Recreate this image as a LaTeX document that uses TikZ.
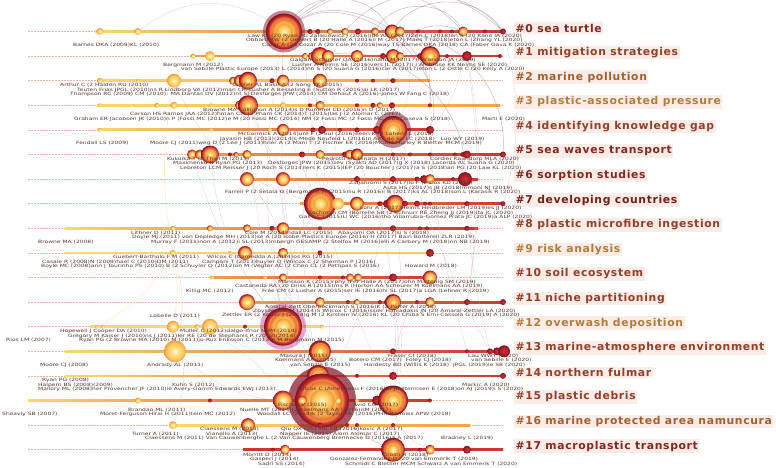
\documentclass[tikz,border=0pt]{standalone}
\usepackage{fontspec}
\setmainfont{DejaVu Sans}
\newfontfamily\clfont{DejaVu Sans}[LetterSpace=6]
\newfontfamily\aufont{DejaVu Sans}[FakeStretch=1.36]
\pgfdeclarelayer{back}
\pgfdeclarelayer{bg}
\pgfsetlayers{back,bg,main}
\definecolor{yA}{RGB}{255,246,205}
\definecolor{yB}{RGB}{255,222,130}
\definecolor{yC}{RGB}{250,192,85}
\definecolor{oA}{RGB}{243,150,65}
\definecolor{oB}{RGB}{230,105,55}
\definecolor{rA}{RGB}{205,55,50}
\definecolor{rB}{RGB}{170,28,40}
\definecolor{rC}{RGB}{130,18,35}
\definecolor{authc}{RGB}{88,55,45}
\definecolor{labbg}{RGB}{252,236,231}
\definecolor{dashc}{RGB}{242,175,160}
\definecolor{linkc}{RGB}{215,160,165}
\definecolor{linkdc}{RGB}{150,85,110}
\definecolor{lnY}{RGB}{252,215,110}
\definecolor{lnO}{RGB}{245,160,70}
\definecolor{lnR}{RGB}{205,55,50}
\definecolor{cRed}{RGB}{135,38,30}
\definecolor{cBrn}{RGB}{150,62,40}
\definecolor{cOrg}{RGB}{165,95,45}
\definecolor{cLt}{RGB}{178,125,58}
\pgfdeclareradialshading{oldc}{\pgfpointorigin}{color(0bp)=(yA); color(10bp)=(yB); color(20bp)=(yC); color(25bp)=(oA); color(50bp)=(oA)}
\pgfdeclareradialshading{midc}{\pgfpointorigin}{color(0bp)=(yA); color(7bp)=(yB); color(13bp)=(yC); color(18bp)=(oA); color(22bp)=(rA); color(25bp)=(rB); color(50bp)=(rB)}
\pgfdeclareradialshading{newc}{\pgfpointorigin}{color(0bp)=(rA); color(18bp)=(rB); color(25bp)=(rC); color(50bp)=(rC)}
\pgfdeclareradialshading{bigc}{\pgfpointorigin}{color(0bp)=(yA); color(4bp)=(yB); color(8bp)=(yC); color(11bp)=(oA); color(12bp)=(yC); color(15bp)=(oA); color(18bp)=(oB); color(19bp)=(oA); color(21bp)=(rA); color(23bp)=(rB); color(25bp)=(rC); color(50bp)=(rC)}
\tikzset{
  cit/.style={circle, inner sep=0pt, shade},
  halo/.style={circle, inner sep=0pt, fill=rC, fill opacity=0.5},
  auth/.style={font=\aufont\fontsize{4.4}{4.4}\selectfont, text=authc, anchor=west, inner sep=0pt},
  clab/.style={font=\clfont\fontsize{10.8}{12}\selectfont\bfseries, fill=labbg, anchor=west, inner sep=1.5pt},
  dashl/.style={draw=dashc, line width=0.55pt, dash pattern=on 1.6pt off 1.4pt},
  link/.style={draw=linkc, line width=0.35pt, draw opacity=0.5},
  linkd/.style={draw=linkdc, line width=0.45pt, draw opacity=0.45},
  linky/.style={draw=lnY, line width=0.35pt, draw opacity=0.6}
}
\newcommand\rownodes[3]{\foreach \x/\r/\s [count=\k] in {#3} {\node[cit, shading=\s, minimum size={2*\r pt}] (n#1-\k) at (\x,#2) {};}}
\newcommand\tline[5]{\draw[dashl] (28,#1) -- (503,#1); \shade[left color=#4, right color=#5] (#2,#1-0.9) rectangle (#3,#1+0.9);}
\newcommand\au[4]{\node[auth] (#1) at (#2,#3) {#4};}
\begin{document}
\begin{tikzpicture}[x=1pt,y=-1pt]
\useasboundingbox (0,0) rectangle (776,468);
\begin{pgfonlayer}{back}
\fill[white] (0,0) rectangle (776,468);
\end{pgfonlayer}
% halos
\node[halo, minimum size=42pt] (h0) at (284,31.5) {};
\node[halo, minimum size=36pt] (h4) at (393,129.9) {};
\node[halo, fill=rC!60!magenta, fill opacity=0.35, minimum size=46pt] (h12) at (283,326.7) {};
\node[halo, fill opacity=0.7, minimum size=68pt] (h15) at (322,400.5) {};
% nodes
\rownodes{0}{31.5}{100/3.5/oldc,138/3.5/oldc,284/18/bigc,310/2.5/newc,318/2.5/newc,330/3/midc,345/3.5/midc,358/3/newc,375/4/midc,392/7/bigc,400/5/midc,418/2/newc,440/2/newc,452/2/newc,463/5/midc,485/2/newc,503/3/newc}
\rownodes{1}{56.1}{193/2.5/oldc,210/5/oldc,305/3/midc,312/4/midc,320/9/bigc,328/6/midc,357/6/midc,383/3/newc,393/7/bigc,400/4/midc,420/3/newc,430/10/bigc,447/2/newc,467/5/newc,500/2/newc}
\rownodes{2}{80.7}{100/3/oldc,138/2/oldc,174/7/oldc,233/4/midc,240/6/midc,248/9/bigc,272/2.5/newc,283/6/midc,320/7/midc,357/2/newc,373/2/newc,393/2.5/newc}
\rownodes{3}{105.3}{100/2/oldc,157/2.5/oldc,174/3.5/oldc,211/2/oldc,240/5/midc,248/10/bigc,283/3/oldc,310/2/newc,320/4.5/midc,357/2/newc,373/2.5/newc,380/3/midc,392/3/newc,430/2/newc}
\rownodes{4}{129.9}{100/2/oldc,211/2/oldc,270/2/oldc,283/6/midc,313/2.5/newc,322/4/newc,340/2/newc,357/2.5/newc,377/4/newc,393/14/bigc,430/4/newc}
\rownodes{5}{154.5}{192/5/midc,200/5/midc,210/9/bigc,230/2/newc,236/2.5/midc,247/4.5/midc,302/3/newc,320/4.5/midc,345/3/newc,350/5/midc,357/6/bigc,393/2/newc,410/2/newc,430/2/newc,455/2/newc,463/2.5/newc,467/4/newc,503/3/newc}
\rownodes{6}{179.1}{247/7/midc,283/7/midc,357/3/newc,393/3/newc,417/2.5/newc,424/4/newc,430/5/midc,453/2/newc,465/7/newc}
\rownodes{7}{203.7}{320/16/bigc,338/6/oldc,357/7/midc,380/2.5/newc,387/4/newc,395/9/bigc,405/3/newc,417/3/newc,425/2/newc,430/2/newc,467/2.5/newc,503/2.5/newc}
\rownodes{8}{228.3}{173/2.5/oldc,210/3/midc,247/4/midc,272/2.5/newc,283/6/midc,320/2/newc,393/3/newc,420/2/newc,427/2/newc,467/2.5/newc}
\rownodes{9}{252.9}{173/3/oldc,230/2/oldc,245/7/midc,283/5/midc,320/2.5/newc,430/4/newc}
\rownodes{10}{277.5}{212/2/oldc,265/2/oldc,283/4/midc,320/2/newc,343/2/newc,350/4/midc,358/4/midc,393/4/newc,430/7/midc}
\rownodes{11}{302.1}{247/8/midc,320/5/midc,348/2/newc,357/3/midc,380/2/newc,387/3/newc,393/8/bigc,417/2/newc,430/5/midc,467/3/newc,503/3/newc}
\rownodes{12}{326.7}{97/2/oldc,103/2/oldc,173/6/oldc,197/2.5/oldc,210/8/oldc,245/2/newc,283/19/bigc,322/2/oldc}
\rownodes{13}{351.3}{175/11/oldc,320/11/bigc,393/3/newc,467/2/newc,490/3/newc,497/4/newc,504/6/newc}
\rownodes{14}{375.9}{318/11/bigc,357/2/newc,393/4/newc,503/3/newc}
\rownodes{15}{400.5}{138/3/oldc,210/2/newc,283/10/midc,322/27/bigc,302/5/midc,338/3/oldc,357/2/oldc,377/5/newc,393/15/bigc,430/2/newc}
\rownodes{16}{425.1}{173/4/oldc,248/7/midc,320/2.5/newc,347/2/newc,357/2/newc,393/2/newc}
\rownodes{17}{449.7}{273/2/newc,285/5/midc,393/12/bigc,420/2/newc,430/5/midc,467/4/newc}
% cluster labels
\node[clab, text=cRed] (l0) at (514,28) {\#0 sea turtle};
\node[clab, text=cBrn] (l1) at (514,52.6) {\#1 mitigation strategies};
\node[clab, text=cOrg] (l2) at (514,77.2) {\#2 marine pollution};
\node[clab, text=cLt] (l3) at (514,101.8) {\#3 plastic-associated pressure};
\node[clab, text=cBrn] (l4) at (514,126.4) {\#4 identifying knowledge gap};
\node[clab, text=cRed] (l5) at (514,151) {\#5 sea waves transport};
\node[clab, text=cRed] (l6) at (514,175.6) {\#6 sorption studies};
\node[clab, text=cRed!85!black] (l7) at (514,200.2) {\#7 developing countries};
\node[clab, text=cBrn] (l8) at (514,224.8) {\#8 plastic microfibre ingestion};
\node[clab, text=cLt] (l9) at (514,249.4) {\#9 risk analysis};
\node[clab, text=cBrn] (l10) at (514,274) {\#10 soil ecosystem};
\node[clab, text=cBrn] (l11) at (514,298.6) {\#11 niche partitioning};
\node[clab, text=cLt] (l12) at (514,323.2) {\#12 overwash deposition};
\node[clab, text=cBrn] (l13) at (514,347.8) {\#13 marine-atmosphere environment};
\node[clab, text=cBrn] (l14) at (514,372.4) {\#14 northern fulmar};
\node[clab, text=cBrn] (l15) at (514,397) {\#15 plastic debris};
\node[clab, text=cOrg] (l16) at (514,421.6) {\#16 marine protected area namuncura};
\node[clab, text=cRed] (l17) at (514,446.2) {\#17 macroplastic transport};
% author labels
\au{a0a}{248}{36.1}{Law KL (20 Ryan PG Zalasiewicz J (2016)ide AK (2017)Zeri C (2018)en S (20 Kane IA (2020)}
\au{a0b}{246}{40.6}{Obbard RW (2 Gewert B (20 Halle A (2016)i M (2017) Maes T (2018)eton L (Zhang YL (2020)}
\au{a0c}{262}{45.1}{Cozar A (20 Cozar A (20 Cole M (2016)way TS Barnes DKA (2018) CA (Faber Gava K (2020)}
\au{a0d}{73}{45.1}{Barnes DKA (2009)KL (2010)}
\au{a1a}{290}{60.7}{Galgani Schuyler QA (2016)nann M (2017)I Brandon JA (2019)}
\au{a1b}{292}{65.2}{Lusher A Nelms SE (2016)vers JL (2017)i I Ambrose KK Nelms SE (2020)}
\au{a1d}{163}{65.2}{Bergmann M (2012)}
\au{a1c}{181}{69.7}{van Sebille Plastic Europe (2013) L (2014)nn S (20 Suaria G (2016)car A (2017)eton L (2 Ostle C (20 Kelly A (2020)}
\au{a2a}{60}{85.3}{Arthur C (2 Halden RU (2010)}
\au{a2b}{233}{85.3}{Lusher AL Bakir A (2 Song YK (2015)}
\au{a2c}{77}{89.8}{Teuten Frias JPGL (2010)ns R Lindborg VA (2012)man CM Lusher A Besseling E (Sutton R (2016)ai LK (2017)}
\au{a2d}{70}{94.3}{Thompson RC (2009) CM (2010): MA Dantas DV (2012)nt SI Desforges JPW (2014) CM Dehaut A (2016)-Jones W Fang C (2018)}
\au{a3a}{203}{109.9}{Browne MA Collignon A (2014)s D Rummel CD (2016)n O (2017)}
\au{a3b}{130}{114.4}{Carson HS Ramos JAA (2012)hman CM (2 Pham CK (2014)T (2015)las J (2 Alomar C (2017)}
\au{a3c}{74}{118.9}{Graham ER Jacobsen JK (2010)n P (Fossi MC (2012)e M (20 Fossi MC (2014) NM (2 Fossi MC (2 Fossi MC (2017)oseva S (2018)}
\au{a3d}{482}{118.9}{Marti E (2020)}
\au{a4a}{238}{134.5}{McCormick A (2014)ure F (2 Sul (2016)eeen K (2 Lahens L (2018)}
\au{a4b}{220}{139}{Jayasiri HB (2013)(2014)s-Mede Neufeld L (2016)n AAT de Sa LC (2018) \ \ Luo WY (2019)}
\au{a4c}{76}{143.5}{Fendall LS (2009)}
\au{a4d}{150}{143.5}{Moore CJ (2011)weg D (2 Lee J (2013)hner A (2 Mani T (2 Fischer EK (2016)MOEM Hurley R Bletter MCM (2019)}
\au{a5a}{167}{159.1}{Kukulka T (2 Thiel M (2013)}
\au{a5b}{322}{159.1}{Pedrotti ML Hinata H (2017)}
\au{a5c}{430}{159.1}{Cordier Kaandorp MLA (2020)}
\au{a5d}{173}{163.6}{Maximenko N Ryan PG (2013)}
\au{a5e}{268}{163.6}{Desforges JPW (2015)zev (Syakti AD (2017)g X (2018) Lacerda AL Suaria G (2020)}
\au{a5f}{180}{168.1}{Lebreton LCM Reisser J (20 Roch S (2014)lers K (2015)IEP (20 Boucher J (2017)a S (2018)an PG (20 Law KL (2020)}
\au{a6a}{349}{183.7}{Ziajahromi S (2017)lo F (2 Cox KD (2019)}
\au{a6b}{383}{188.2}{Auta HS (2017)s JB (2018)mmoni NJ (2019)}
\au{a6c}{225}{192.7}{Farrell P (2 Setala O (Bergmann M (2015)liu R (2016)i B (2017)ks AL (2018)son L (Karasik R (2020)}
\au{a7a}{360}{208.3}{Lohr A (2017)Helms Heidbreder LM (2019)es JJ (2020)}
\au{a7b}{308}{212.8}{Rochman CM (Borrelle SB (2 Schnurr RE Zheng JJ (2019)ita JC (2020)}
\au{a7c}{299}{217.3}{Gall SC (2015)Li WC (2016)tho Villarrubia-Gomez Prata JC (2019)a ALP (2020)}
\au{a8a}{131}{232.9}{Lithner D (2011)}
\au{a8b}{245}{232.9}{Cole M (2014)ndall LC (2015)}
\au{a8c}{338}{232.9}{Abayomi OA (2017)si S (2018)}
\au{a8d}{132}{237.4}{Doyle MJ (2011) von Depledge MH (2013)se A (20 Isobe Plastics Europe (2016) H (2017) Bain Botterell ZLR (2019)}
\au{a8e}{151}{241.9}{Murray F (2011)non A (2012)i SL (2013)mbergh GESAMP (2 Stelfox M (2016)elli A Carbery M (2018)nn NB (2019)}
\au{a8f}{38}{241.9}{Browne MA (2008)}
\au{a9a}{113}{257.5}{Guebert-Bartholo F M (2011)}
\au{a9b}{207}{257.5}{Wilcox C (Camedda A (2014)os RG (2015)}
\au{a9c}{42}{262}{Casale R (2008)N (2009)hael C (2010)DM (2011)}
\au{a9d}{202}{262}{Campani T (2013)huyler Q (Wilcox C (2 Sherman P (2016)}
\au{a9e}{41}{266.5}{Boyle MC (2008)ann J Tourinho PS (2010) B (2 Schuyler Q (2012)on M (Vegter AC (2 Chen CL (2 Pettipas S (2016)}
\au{a9f}{405}{266.5}{Howard M (2018)}
\au{a10a}{278}{282.1}{Mansson K (2015)rphy (Fer Halle A (2017)ohn Mintenig SM (2019)}
\au{a10b}{235}{286.6}{Castaneda RA (20 Driss R (2015)rns R (Horton AA Scheurer M Koelmans AA (2019)}
\au{a10c}{186}{291.1}{Killig MC (2012)}
\au{a10d}{262}{291.1}{Free CM (2 Lusher A (2015)ser IE (2016)hi SL (2017)a LGA (Lehner R (2019)}
\au{a11a}{265}{306.7}{Amaral-Zett Oberbeckmann S (2016)K (2 Porter A (2018)}
\au{a11b}{253}{311.2}{Zbyszewski M (2014)S Wilcox C (2016)ssier Hahladakis JN (20 Amaral-Zettler LA (2020)}
\au{a11c}{150}{315.7}{Lobelle D (2011)}
\au{a11d}{222}{315.7}{Zettler ER (2 Keiser J (2014)g M (2 Kirstein IV (2016) KL (20 Chiba S Erni-Cassola G (2019) A (2020)}
\au{a12a}{60}{331.3}{Hopewell J Cooper DA (2010)}
\au{a12b}{180}{331.3}{Muller C (2012)dalgo-Ifnor NHM (2014)}
\au{a12c}{68}{335.8}{Gregory M Kaiser J (2010)ns J (2011)ler RE (20 de Stephanis R (2013)(2014)}
\au{a12d}{6}{340.3}{Rios LM (2007)}
\au{a12e}{79}{340.3}{Ryan PG (2 Browne MA (2010) M (2011)jo-Ruz Eriksson C (2013)n M Bergmann M (2015)}
\au{a13a}{280}{355.9}{Masura J (2015)}
\au{a13b}{388}{355.9}{Fraser CI (2018)}
\au{a13c}{468}{355.9}{Lau WWY (2020)}
\au{a13d}{275}{360.4}{Koelmans AA (2015)}
\au{a13e}{349}{360.4}{Botero CM (2017) \ Foley CJ (2018)}
\au{a13f}{471}{360.4}{van Sebille E (2020)}
\au{a13g}{40}{364.9}{Moore CJ (2008)}
\au{a13h}{147}{364.9}{Andrady AL (2011)}
\au{a13i}{290}{364.9}{van Sebille E (2015)}
\au{a13j}{364}{364.9}{Hardesty BD (Willis K (2018) \ JPGL (2019)le SB (2020)}
\au{a14a}{42}{380.5}{Ryan PG (2008)}
\au{a14b}{38}{385}{Halpern BS (2008)(2009)}
\au{a14c}{172}{385}{Kuhn S (2012)}
\au{a14d}{462}{385}{Markic A (2020)}
\au{a14e}{38}{389.5}{Mallory ML (2008)her Provencher JF (2010)ie Avery-Gomm Edwards EWJ (2013)}
\au{a14f}{297}{389.5}{Wilcox C (Amelineau F (2016)er JE Iltermsen E (2018)on AJ (2019)i S (2020)}
\au{a15a}{278}{405.3}{Fischer V (2015)}
\au{a15b}{353}{405.3}{Avio CG (2017)}
\au{a15c}{128}{409.8}{Brandao ML (2011)}
\au{a15d}{240}{409.8}{Nuelle MT (2014)(2 Koelmans AA (2016)nM (2017)}
\au{a15e}{2}{414.3}{Sheavly SB (2007)}
\au{a15f}{100}{414.3}{Moret-Ferguson Hirai H (2011)tein MC (2012)}
\au{a15g}{257}{414.3}{Woodall LC (2014)k (2 Taylor ML (2016)PHR Barrows APW (2018)}
\au{a16a}{200}{429.6}{Claessens M (2013)}
\au{a16b}{281}{429.6}{Qiu QX (2015)u XB (2016)kovic A (2017)}
\au{a16c}{132}{434.1}{Turner A (2011)}
\au{a16d}{206}{434.1}{Vianello A (2013)}
\au{a16e}{280}{434.1}{Napper IE (2015) Alom Alomar C (2017)}
\au{a16f}{145}{438.6}{Claessens M (2011) Van Cauwenberghe L (2 Van Cauwenberg Brennecke D (2016)a A (2017)}
\au{a16g}{441}{438.6}{Bradney L (2019)}
\au{a17a}{243}{454.8}{Morritt D (2014)}
\au{a17b}{383}{454.8}{Crosti R (2018)}
\au{a17c}{250}{459.3}{Gasperi J (2014)}
\au{a17d}{330}{459.3}{Gonzalez-Fernandez D (20 van Emmerik T (2019)}
\au{a17e}{258}{463.8}{Sadri SS (2014)}
\au{a17f}{345}{463.8}{Schmidt C Bletller MCM Schwarz A van Emmerik T (2020)}
\begin{pgfonlayer}{bg}
\tline{31.5}{95}{503}{lnY}{lnR}
\tline{56.1}{190}{500}{lnO}{lnR}
\tline{80.7}{97}{430}{lnY}{lnO}
\tline{105.3}{97}{500}{lnY}{lnO}
\tline{129.9}{97}{430}{lnY}{lnR}
\tline{154.5}{190}{503}{lnO}{lnR}
\tline{179.1}{243}{478}{lnO}{lnR}
\tline{203.7}{300}{503}{lnO}{lnR}
\tline{228.3}{65}{478}{lnY}{lnR}
\tline{252.9}{65}{433}{lnY}{lnY!70!lnO}
\tline{277.5}{210}{433}{lnO}{lnR}
\tline{302.1}{240}{503}{lnO}{lnR}
\tline{326.7}{90}{322}{lnY}{lnY}
\tline{351.3}{65}{503}{lnY}{lnR}
\tline{375.9}{65}{503}{lnY}{lnR}
\tline{400.5}{28}{430}{lnY}{lnR}
\tline{425.1}{170}{470}{lnY}{lnO}
\tline{449.7}{243}{503}{lnR}{lnR}
\foreach \a/\b/\c in {n0-3/n0-10/55,n0-3/n0-15/45,n0-3/n0-17/40,n0-7/n0-17/50,n0-10/n0-17/55,n0-9/n0-15/60,n0-3/n4-11/70,n0-3/n3-14/65,n0-10/n5-18/45,n1-5/n6-9/50,n0-10/n1-12/30,n1-9/n0-15/40}
  \draw[linkd] (\a) to[bend left=\c] (\b);
\foreach \a/\b/\c in {n0-2/n0-3/35,n0-3/n7-1/-15,n0-3/n12-7/-10,n0-3/n15-4/-8,n1-5/n7-1/20,n1-12/n13-4/-8,n0-15/n11-10/10,n2-6/n7-1/-20,n2-6/n15-4/-12,n3-6/n12-7/15,n4-10/n15-4/10,n4-10/n7-6/-20,n4-10/n0-10/-30,n5-3/n12-7/-15,n5-11/n15-9/12,n6-2/n15-4/-10,n6-9/n13-5/-5,n7-1/n15-4/8,n7-1/n12-7/-15,n7-6/n17-3/6,n8-5/n15-4/-20,n9-3/n15-4/20,n10-9/n14-3/-15,n11-7/n15-9/10,n11-1/n12-7/-20,n12-7/n15-4/-30,n13-2/n15-4/25,n14-1/n17-3/-20,n16-2/n15-4/-25,n13-1/n15-4/-20,n12-5/n13-2/-20,n1-9/n4-10/-15,n3-9/n7-1/10,n5-8/n11-2/-10,n0-15/n4-11/20,n0-17/n7-12/15,n1-14/n11-10/8,n2-9/n14-1/-10,n12-3/n15-3/25,n9-1/n13-1/15,n16-1/n12-3/-20,n8-3/n13-2/-15,n17-3/n13-2/30,n6-1/n10-3/20,n15-9/n17-5/-25,n2-3/n7-1/-25,n5-1/n12-7/-10,n3-13/n13-5/-6,n1-3/n15-9/-10}
  \draw[link] (\a) to[bend left=\c] (\b);
\foreach \a/\b/\c in {n9-1/n12-3/10,n8-1/n9-2/-10,n12-1/n9-1/-15,n9-1/n2-3/10,n12-3/n13-1/-10}
  \draw[linky] (\a) to[bend left=\c] (\b);
\end{pgfonlayer}
\end{tikzpicture}
\end{document}
